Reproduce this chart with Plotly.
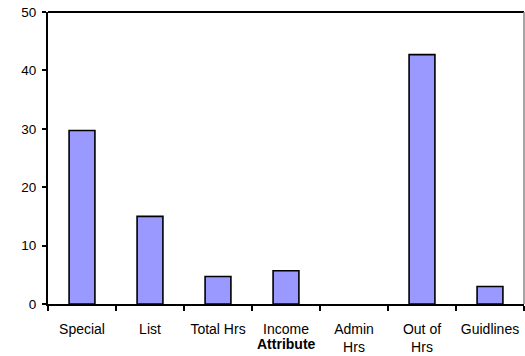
import plotly.graph_objects as go

# Error counts per attribute
categories = ["Special", "List", "Total Hrs", "Income", "Admin<br>Hrs", "Out of<br>Hrs", "Guidlines"]
values = [29.7, 15, 4.7, 5.7, 0, 42.7, 3]
y_ticks = [0, 10, 20, 30, 40, 50]

FONT = "Arial"

# Empty bars get no outline so nothing sits on top of the axis line
outline_widths = [1.6 if v > 0 else 0 for v in values]

fig = go.Figure(
    go.Bar(
        x=categories,
        y=values,
        width=0.38,
        marker=dict(color="#9999FF", line=dict(color="black", width=outline_widths)),
    )
)

fig.update_layout(
    width=525,
    height=356,
    margin=dict(l=48, r=1, t=12, b=52),
    paper_bgcolor="white",
    plot_bgcolor="white",
    showlegend=False,
    font=dict(family=FONT, size=14, color="black"),
    xaxis=dict(
        type="category",
        showgrid=False,
        showline=True,
        linecolor="black",
        linewidth=2,
        ticks="outside",
        tickson="boundaries",
        ticklen=5,
        tickwidth=1.5,
        tickcolor="black",
        tickfont=dict(family=FONT, size=14, color="black"),
        ticklabelstandoff=11,
    ),
    yaxis=dict(
        range=[0, 50],
        tickvals=y_ticks,
        showgrid=False,
        zeroline=False,
        showline=True,
        linecolor="black",
        linewidth=2,
        ticks="outside",
        ticklen=4,
        tickwidth=1.5,
        tickcolor="black",
        tickfont=dict(family=FONT, size=13.5, color="black"),
        ticklabelstandoff=3,
    ),
    shapes=[
        dict(type="line", xref="paper", yref="paper", x0=0, x1=1, y0=1, y1=1,
             line=dict(color="black", width=2)),
        dict(type="line", xref="paper", yref="paper", x0=1, x1=1, y0=0, y1=1,
             line=dict(color="#888888", width=1.5)),
    ],
    annotations=[
        dict(text="<b>Attribute</b>", xref="paper", yref="paper", x=0.5, y=0,
             xanchor="center", yanchor="middle", yshift=-40, showarrow=False,
             font=dict(family=FONT, size=14, color="black")),
        dict(text="<b>Error Count Per Attribute</b>", xref="paper", yref="paper",
             x=0.5, y=1, xanchor="center", yanchor="bottom", yshift=8,
             showarrow=False, font=dict(family=FONT, size=15, color="black")),
    ],
)

fig.write_html("out.html")
